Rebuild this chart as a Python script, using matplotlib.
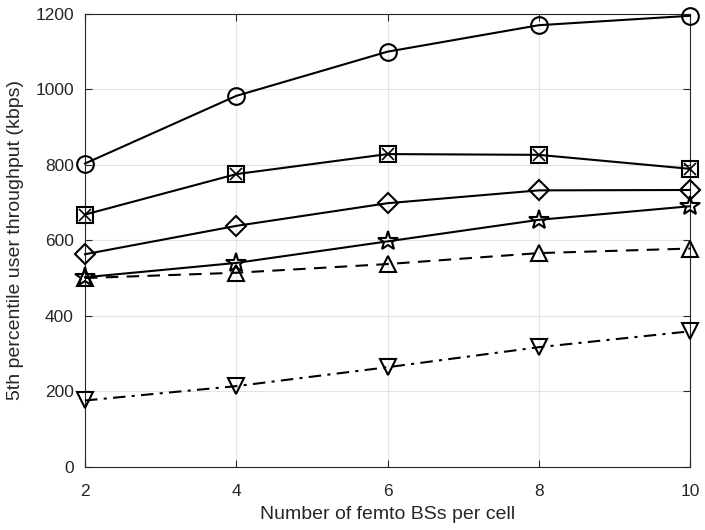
import matplotlib
matplotlib.use("Agg")
import matplotlib.pyplot as plt

plt.rcParams['font.family'] = ['Liberation Sans', 'DejaVu Sans']

femto_bs = [2, 4, 6, 8, 10]
circle_vals = [803, 982, 1099, 1169, 1194]
square_vals = [668, 775, 828, 826, 789]
diamond_vals = [563, 638, 698, 732, 733]
star_vals = [502, 540, 597, 654, 690]
tri_up_vals = [500, 514, 537, 566, 578]
tri_down_vals = [176, 214, 264, 317, 359]

x_ticks = [2, 4, 6, 8, 10]
y_ticks = [0, 200, 400, 600, 800, 1000, 1200]

txt = '#262626'
fig = plt.figure(figsize=(7.05, 5.30), dpi=100)
ax = fig.add_axes([85/705, 1 - 467/530, (690-85)/705, (467-13.5)/530])

lw = 1.5
mew = 1.5
common = dict(color='black', linewidth=lw, markeredgewidth=mew, markerfacecolor='none', clip_on=False, zorder=3)

ax.plot(femto_bs, circle_vals, '-', marker='o', markersize=12, **common)
ax.plot(femto_bs, square_vals, '-', marker='s', markersize=11, **common)
ax.plot(femto_bs, square_vals, linestyle='none', marker='x', markersize=9,
        color='black', markeredgewidth=1.2, clip_on=False, zorder=4)
ax.plot(femto_bs, diamond_vals, '-', marker='D', markersize=10, **common)
ax.plot(femto_bs, star_vals, '-', marker='*', markersize=15, **common)
ax.plot(femto_bs, tri_up_vals, '--', marker='^', markersize=12, dashes=(6, 4), **common)
ax.plot(femto_bs, tri_down_vals, '-.', marker='v', markersize=12, dashes=(6, 3, 1.5, 3), **common)

ax.set_xlim(2, 10)
ax.set_ylim(0, 1200)
ax.set_xticks(x_ticks)
ax.set_yticks(y_ticks)
ax.grid(True, color='#e3e3e3', linewidth=0.8)
ax.set_axisbelow(True)
ax.tick_params(direction='in', top=True, right=True, length=5, width=0.8,
               colors=txt, labelsize=12.5)
ax.tick_params(axis='y', pad=8)
ax.tick_params(axis='x', pad=12)
for sp in ax.spines.values():
    sp.set_color(txt)
    sp.set_linewidth(0.8)

ax.set_xlabel('Number of femto BSs per cell', fontsize=14, color=txt, labelpad=5)
ax.set_ylabel('5th percentile user throughput (kbps)', fontsize=14, color=txt, labelpad=8)

fig.savefig('out.png', dpi=100)
